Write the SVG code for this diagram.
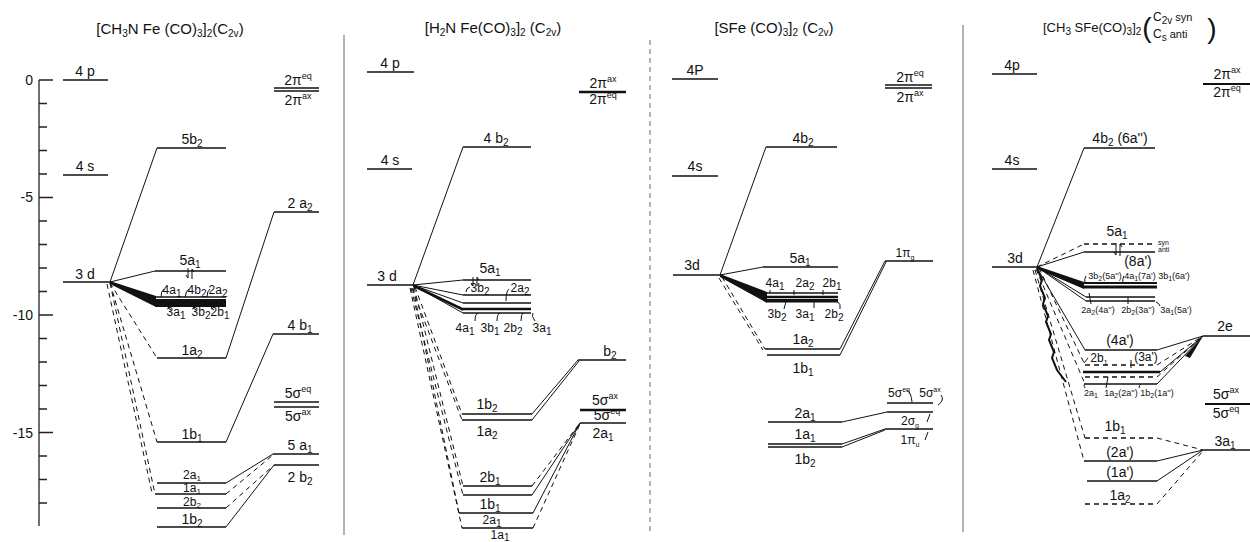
<svg xmlns="http://www.w3.org/2000/svg" width="1250" height="542" viewBox="0 0 1250 542">
<style>
text{font-family:"Liberation Sans",Arial,sans-serif;font-size:14px;fill:#111;text-anchor:middle}
.t{font-size:15px}
.m{font-size:12px}
.s{font-size:9px}
.xs{font-size:7px}
.b{font-size:10px}
.b8{font-size:8px}
.u{font-size:9px}
.bs{font-size:7px}
.st{text-anchor:start}
.en{text-anchor:end}
.lv{stroke:#111;stroke-width:1.4;fill:none}
.c{stroke:#111;stroke-width:1;fill:none}
.d{stroke-dasharray:5 4}
.ax{stroke:#222;stroke-width:1.3;fill:none}
.dv{stroke:#666;stroke-width:1}
.fan{fill:#111}
</style>
<rect width="1250" height="542" fill="#fff"/>

<g id="axis">
<line class="ax" x1="39" y1="80" x2="39" y2="526"/>
<path class="ax" d="M39 80h14M39 103.5h8M39 127h8M39 150.5h8M39 174h8M39 197.5h14M39 221h8M39 244.5h8M39 268h8M39 291.5h8M39 315h14M39 338.5h8M39 362h8M39 385.5h8M39 409h8M39 432.5h14M39 456h8M39 479.5h8M39 503h8"/>
<text class="en" x="33" y="85">0</text>
<text class="en" x="33" y="202">-5</text>
<text class="en" x="33" y="320">-10</text>
<text class="en" x="33" y="438">-15</text>
</g>

<g id="dividers">
<line class="dv" x1="344" y1="35" x2="344" y2="535"/>
<line class="dv d" x1="650" y1="40" x2="650" y2="532"/>
<line class="dv" x1="963" y1="25" x2="963" y2="532"/>
</g>

<!-- ===== Panel 1 ===== -->
<g id="p1-title"><text class="t" x="170" y="34">[CH<tspan class="b" dy="3">3</tspan><tspan dy="-3">N Fe (CO)</tspan><tspan class="b" dy="3">3</tspan><tspan dy="-3">]</tspan><tspan class="b" dy="3">2</tspan><tspan dy="-3">(C</tspan><tspan class="b" dy="3">2v</tspan><tspan dy="-3">)</tspan></text></g>
<g id="p1-4p"><line class="lv" x1="63" y1="80" x2="108" y2="80"/><text x="85" y="76">4 p</text></g>
<g id="p1-4s"><line class="lv" x1="63" y1="175" x2="108" y2="175"/><text x="85" y="171">4 s</text></g>
<g id="p1-3d"><line class="lv" x1="63" y1="282" x2="110" y2="282"/><text x="85" y="279">3 d</text></g>
<g id="p1-5b2"><line class="lv" x1="157" y1="148" x2="226" y2="148"/><text x="192" y="144">5b<tspan class="b" dy="3">2</tspan></text></g>
<g id="p1-5a1"><line class="lv" x1="155" y1="271" x2="226" y2="271"/><text x="190" y="265">5a<tspan class="b" dy="3">1</tspan></text>
<path class="c" d="M188 268v10M186 275l2 3M192 279v-10M192 269l2 3"/></g>
<g id="p1-band"><line class="lv" x1="155" y1="297" x2="226" y2="297"/><rect x="155" y="299" width="71" height="8" fill="#111"/>
<text class="m" x="172" y="294">4a<tspan class="b" dy="3">1</tspan></text>
<text class="m" x="197" y="294">4b<tspan class="b" dy="3">2</tspan></text>
<text class="m" x="218" y="294">2a<tspan class="b" dy="3">2</tspan></text>
<text class="m" x="176" y="316">3a<tspan class="b" dy="3">1</tspan></text>
<text class="m" x="201" y="316">3b<tspan class="b" dy="3">2</tspan></text>
<text class="m" x="220" y="316">2b<tspan class="b" dy="3">1</tspan></text>
<path class="c" d="M164 289q-3 2-3 8M189 289q-3 2-4 8M210 289q-3 2-3 8M168 306q0 3 3 4M193 306q0 3 3 4M211 306q0 3 3 4"/></g>
<g id="p1-1a2"><line class="lv" x1="157" y1="358" x2="226" y2="358"/><text x="192" y="355">1a<tspan class="b" dy="3">2</tspan></text></g>
<g id="p1-1b1"><line class="lv" x1="157" y1="442" x2="226" y2="442"/><text x="192" y="439">1b<tspan class="b" dy="3">1</tspan></text></g>
<g id="p1-2a1"><line class="lv" x1="157" y1="483" x2="226" y2="483"/><text class="m" x="192" y="479">2a<tspan class="b8" dy="2">1</tspan></text></g>
<g id="p1-1a1"><line class="lv" x1="155" y1="494" x2="226" y2="494"/><text class="m" x="192" y="492">1a<tspan class="b8" dy="2">1</tspan></text></g>
<g id="p1-2b2"><line class="lv" x1="157" y1="508" x2="226" y2="508"/><text class="m" x="192" y="506">2b<tspan class="b8" dy="2">2</tspan></text></g>
<g id="p1-1b2"><line class="lv" x1="157" y1="527" x2="226" y2="527"/><text x="192" y="524">1b<tspan class="b" dy="3">2</tspan></text></g>
<g id="p1-2pi"><line class="lv" x1="274" y1="88" x2="319" y2="88"/><line class="lv" x1="274" y1="91" x2="319" y2="91"/>
<text x="298" y="85">2π<tspan class="u" dy="-6">eq</tspan></text><text x="298" y="105">2π<tspan class="u" dy="-6">ax</tspan></text></g>
<g id="p1-2a2r"><line class="lv" x1="274" y1="212" x2="319" y2="212"/><text x="300" y="208">2 a<tspan class="b" dy="3">2</tspan></text></g>
<g id="p1-4b1"><line class="lv" x1="273" y1="334" x2="319" y2="334"/><text x="300" y="330">4 b<tspan class="b" dy="3">1</tspan></text></g>
<g id="p1-5sigma"><line class="lv" x1="274" y1="402" x2="319" y2="402"/><line class="lv" x1="274" y1="407" x2="319" y2="407"/>
<text x="298" y="398">5σ<tspan class="u" dy="-6">eq</tspan></text><text x="298" y="421">5σ<tspan class="u" dy="-6">ax</tspan></text></g>
<g id="p1-5a1r"><line class="lv" x1="273" y1="454" x2="319" y2="454"/><text x="300" y="450">5 a<tspan class="b" dy="3">1</tspan></text></g>
<g id="p1-2b2r"><line class="lv" x1="274" y1="465" x2="319" y2="465"/><text x="300" y="482">2 b<tspan class="b" dy="3">2</tspan></text></g>

<!-- ===== Panel 2 ===== -->
<g id="p2-title"><text class="t" x="493" y="33">[H<tspan class="b" dy="3">2</tspan><tspan dy="-3">N Fe(CO)</tspan><tspan class="b" dy="3">3</tspan><tspan dy="-3">]</tspan><tspan class="b" dy="3">2</tspan><tspan dy="-3"> (C</tspan><tspan class="b" dy="3">2v</tspan><tspan dy="-3">)</tspan></text></g>
<g id="p2-4p"><line class="lv" x1="367" y1="72" x2="414" y2="72"/><text x="390" y="68">4 p</text></g>
<g id="p2-4s"><line class="lv" x1="367" y1="169" x2="412" y2="169"/><text x="390" y="165">4 s</text></g>
<g id="p2-3d"><line class="lv" x1="367" y1="285" x2="413" y2="285"/><text x="387" y="281">3 d</text></g>
<g id="p2-4b2"><line class="lv" x1="463" y1="147" x2="531" y2="147"/><text x="496" y="143">4 b<tspan class="b" dy="3">2</tspan></text></g>
<g id="p2-5a1"><line class="lv" x1="463" y1="280" x2="531" y2="280"/><text x="490" y="273">5a<tspan class="b" dy="3">1</tspan></text>
<path class="c" d="M473 277v9M471 283l2 3M477 286v-9M477 277l2 3"/></g>
<g id="p2-band"><line class="lv" x1="463" y1="295" x2="531" y2="295"/><line class="lv" x1="463" y1="303" x2="531" y2="303"/>
<line x1="463" y1="309" x2="531" y2="309" stroke="#111" stroke-width="2.6"/><line class="lv" x1="463" y1="313" x2="531" y2="313"/>
<text class="m" x="480" y="292">3b<tspan class="b" dy="3">2</tspan></text>
<text class="m" x="520" y="292">2a<tspan class="b" dy="3">2</tspan></text>
<text class="m" x="465" y="332">4a<tspan class="b" dy="3">1</tspan></text>
<text class="m" x="490" y="332">3b<tspan class="b" dy="3">1</tspan></text>
<text class="m" x="513" y="332">2b<tspan class="b" dy="3">2</tspan></text>
<text class="m" x="542" y="332">3a<tspan class="b" dy="3">1</tspan></text>
<path class="c" d="M470 287q-4 1-4 5M509 289q-3 2-3 12M478 313q-3 1-3 8M500 313q-3 1-3 8M523 313q-2 1-2 8M533 313q-2 3 2 8"/></g>
<g id="p2-1b2"><line class="lv" x1="462" y1="414" x2="532" y2="414"/><text x="487" y="409">1b<tspan class="b" dy="3">2</tspan></text></g>
<g id="p2-1a2"><line class="lv" x1="462" y1="420" x2="532" y2="420"/><text x="487" y="436">1a<tspan class="b" dy="3">2</tspan></text></g>
<g id="p2-2b1"><line class="lv" x1="463" y1="486" x2="532" y2="486"/><text x="490" y="482">2b<tspan class="b" dy="3">1</tspan></text></g>
<g id="p2-1b1"><line class="lv" x1="463" y1="495" x2="532" y2="495"/><text x="490" y="509">1b<tspan class="b" dy="3">1</tspan></text></g>
<g id="p2-2a1"><line class="lv" x1="459" y1="513" x2="533" y2="513"/><text class="m" x="492" y="524">2a<tspan class="b" dy="3">1</tspan></text></g>
<g id="p2-1a1"><line class="lv" x1="462" y1="528" x2="533" y2="528"/><text class="m" x="500" y="539">1a<tspan class="b" dy="2">1</tspan></text></g>
<g id="p2-2pi"><line x1="579" y1="92" x2="626" y2="92" stroke="#111" stroke-width="2.6"/>
<text x="603" y="88">2π<tspan class="u" dy="-6">ax</tspan></text><text x="603" y="104">2π<tspan class="u" dy="-6">eq</tspan></text></g>
<g id="p2-b2"><line class="lv" x1="578" y1="360" x2="626" y2="360"/><text x="610" y="356">b<tspan class="b" dy="3">2</tspan></text></g>
<g id="p2-5sigma"><line x1="580" y1="410" x2="626" y2="410" stroke="#111" stroke-width="2.4"/>
<text x="605" y="405">5σ<tspan class="u" dy="-6">ax</tspan></text><text x="607" y="420">5σ<tspan class="u" dy="-6">eq</tspan></text></g>
<g id="p2-2a1r"><line class="lv" x1="580" y1="423" x2="626" y2="423"/><text x="603" y="438">2a<tspan class="b" dy="3">1</tspan></text></g>

<!-- ===== Panel 3 ===== -->
<g id="p3-title"><text class="t" x="774" y="33">[SFe (CO)<tspan class="b" dy="3">3</tspan><tspan dy="-3">]</tspan><tspan class="b" dy="3">2</tspan><tspan dy="-3">  (C</tspan><tspan class="b" dy="3">2v</tspan><tspan dy="-3">)</tspan></text></g>
<g id="p3-4p"><line class="lv" x1="672" y1="79" x2="718" y2="79"/><text x="695" y="75">4P</text></g>
<g id="p3-4s"><line class="lv" x1="672" y1="176" x2="718" y2="176"/><text x="695" y="171">4s</text></g>
<g id="p3-3d"><line class="lv" x1="673" y1="275" x2="720" y2="275"/><text x="692" y="270">3d</text></g>
<g id="p3-4b2"><line class="lv" x1="766" y1="147" x2="837" y2="147"/><text x="803" y="143">4b<tspan class="b" dy="3">2</tspan></text></g>
<g id="p3-5a1"><line class="lv" x1="763" y1="267" x2="838" y2="267"/><text x="800" y="263">5a<tspan class="b" dy="3">1</tspan></text></g>
<g id="p3-band"><line class="lv" x1="767" y1="293" x2="838" y2="293"/><line x1="767" y1="297" x2="838" y2="297" stroke="#111" stroke-width="2.4"/><rect x="767" y="299" width="71" height="3.5" fill="#111"/>
<text class="m" x="775" y="287">4a<tspan class="b" dy="3">1</tspan></text>
<text class="m" x="805" y="287">2a<tspan class="b" dy="3">2</tspan></text>
<text class="m" x="832" y="287">2b<tspan class="b" dy="3">1</tspan></text>
<text class="m" x="777" y="318">3b<tspan class="b" dy="3">2</tspan></text>
<text class="m" x="805" y="318">3a<tspan class="b" dy="3">1</tspan></text>
<text class="m" x="834" y="318">2b<tspan class="b" dy="3">2</tspan></text>
<path class="c" d="M770 290v3M794 290v5M823 290v5M786 302q-1 3-2 7M814 302v6M838 302q3 2 2 7"/></g>
<g id="p3-1a2"><line class="lv" x1="765" y1="349" x2="840" y2="349"/><text x="803" y="344">1a<tspan class="b" dy="3">2</tspan></text></g>
<g id="p3-1b1"><line class="lv" x1="767" y1="355" x2="840" y2="355"/><text x="803" y="373">1b<tspan class="b" dy="3">1</tspan></text></g>
<g id="p3-2a1"><line class="lv" x1="768" y1="422" x2="842" y2="422"/><text x="805" y="418">2a<tspan class="b" dy="3">1</tspan></text></g>
<g id="p3-1a1"><line class="lv" x1="768" y1="444" x2="842" y2="444"/><text x="805" y="439">1a<tspan class="b" dy="3">1</tspan></text></g>
<g id="p3-1b2"><line class="lv" x1="768" y1="447" x2="842" y2="447"/><text x="805" y="464">1b<tspan class="b" dy="3">2</tspan></text></g>
<g id="p3-2pi"><line class="lv" x1="885" y1="85" x2="932" y2="85"/><line class="lv" x1="885" y1="88" x2="932" y2="88"/>
<text x="910" y="82">2π<tspan class="u" dy="-6">eq</tspan></text><text x="910" y="102">2π<tspan class="u" dy="-6">ax</tspan></text></g>
<g id="p3-1pig"><line class="lv" x1="885" y1="261" x2="933" y2="261"/><text class="m" x="905" y="257">1π<tspan class="bs" dy="3">g</tspan></text></g>
<g id="p3-5sigma"><line class="lv" x1="887" y1="403" x2="933" y2="403"/>
<text class="m" x="899" y="397">5σ<tspan class="bs" dy="-5">eq</tspan></text><text class="m" x="930" y="397">5σ<tspan class="bs" dy="-5">ax</tspan></text>
<path class="c" d="M907 390q4 2 5 12M941 395q4 5-3 10"/></g>
<g id="p3-2sigmag"><line class="lv" x1="887" y1="412" x2="933" y2="412"/><text class="m" x="910" y="425">2σ<tspan class="bs" dy="3">g</tspan></text><path class="c" d="M927 422l3-8"/></g>
<g id="p3-1piu"><line class="lv" x1="885" y1="429" x2="933" y2="429"/><text class="m" x="910" y="444">1π<tspan class="bs" dy="3">u</tspan></text><path class="c" d="M925 440l3-8"/></g>

<!-- ===== Panel 4 ===== -->
<g id="p4-title"><text class="st" x="1043" y="32" style="font-size:13px">[CH<tspan class="b" dy="3">3</tspan><tspan dy="-3"> SFe(CO)</tspan><tspan class="b" dy="3">3</tspan><tspan dy="-3">]</tspan><tspan class="b" dy="3">2</tspan></text>
<text x="1147" y="37" style="font-size:28px">(</text><text x="1212" y="38" style="font-size:28px">)</text>
<text class="m st" x="1153" y="21">C<tspan class="b" dy="3">2v</tspan><tspan dy="-3" style="font-size:11px"> syn</tspan></text>
<text class="m st" x="1153" y="38">C<tspan class="b" dy="3">s</tspan><tspan dy="-3" style="font-size:11px"> anti</tspan></text></g>
<g id="p4-4p"><line class="lv" x1="992" y1="74" x2="1037" y2="74"/><text x="1012" y="70">4p</text></g>
<g id="p4-4s"><line class="lv" x1="992" y1="169" x2="1037" y2="169"/><text x="1012" y="165">4s</text></g>
<g id="p4-3d"><line class="lv" x1="992" y1="267" x2="1037" y2="267"/><text x="1015" y="263">3d</text></g>
<g id="p4-4b2"><line class="lv" x1="1084" y1="148" x2="1155" y2="148"/><text x="1120" y="143">4b<tspan class="b" dy="3">2</tspan><tspan dy="-3"> (6a'')</tspan></text></g>
<g id="p4-5a1"><line class="lv d" x1="1084" y1="244" x2="1155" y2="244"/><line class="lv" x1="1084" y1="252" x2="1155" y2="252"/>
<text x="1117" y="236">5a<tspan class="b" dy="3">1</tspan></text>
<text class="xs st" x="1158" y="245">syn</text><text class="xs st" x="1158" y="252">anti</text>
<text x="1138" y="266">(8a')</text>
<path class="c" d="M1116 243v12M1114 252l2 3M1120 256v-12M1120 244l2 3"/></g>
<g id="p4-band"><line x1="1084" y1="283" x2="1157" y2="283" stroke="#111" stroke-width="2"/><line x1="1084" y1="287" x2="1157" y2="287" stroke="#111" stroke-width="3"/>
<line class="lv" x1="1086" y1="297" x2="1155" y2="297"/><line class="lv" x1="1086" y1="301" x2="1155" y2="301"/>
<text class="s" x="1105" y="279">3b<tspan class="bs" dy="2">2</tspan><tspan dy="-2">(5a'')</tspan></text>
<text class="s" x="1140" y="279">4a<tspan class="bs" dy="2">1</tspan><tspan dy="-2">(7a')</tspan></text>
<text class="s" x="1174" y="279">3b<tspan class="bs" dy="2">1</tspan><tspan dy="-2">(6a')</tspan></text>
<text class="s" x="1098" y="313">2a<tspan class="bs" dy="2">2</tspan><tspan dy="-2">(4a'')</tspan></text>
<text class="s" x="1138" y="313">2b<tspan class="bs" dy="2">2</tspan><tspan dy="-2">(3a'')</tspan></text>
<text class="s" x="1176" y="313">3a<tspan class="bs" dy="2">1</tspan><tspan dy="-2">(5a')</tspan></text>
<path class="c" d="M1086 276q-2 3-1 7M1124 276q-2 3-1 8M1089 293l2 11M1128 297v7M1156 302q3 1 4 4"/></g>
<g id="p4-4a'"><line class="lv" x1="1085" y1="350" x2="1157" y2="350"/><text x="1120" y="345">(4a')</text></g>
<g id="p4-2b1"><line class="lv d" x1="1085" y1="365" x2="1157" y2="365"/><text class="m" x="1099" y="362">2b<tspan class="bs" dy="3">1</tspan></text><text class="m" x="1146" y="361">(3a')</text>
<path class="c" d="M1088 358l-4 5M1131 360v8"/></g>
<g id="p4-lower"><line x1="1083" y1="372" x2="1160" y2="372" stroke="#111" stroke-width="2.4"/><line class="lv d" x1="1085" y1="377" x2="1157" y2="377"/><line class="lv" x1="1085" y1="384" x2="1157" y2="384"/>
<text class="s" x="1091" y="396">2a<tspan class="bs" dy="2">1</tspan></text>
<text class="s" x="1121" y="396">1a<tspan class="bs" dy="2">2</tspan><tspan dy="-2">(2a'')</tspan></text>
<text class="s" x="1157" y="396">1b<tspan class="bs" dy="2">2</tspan><tspan dy="-2">(1a'')</tspan></text>
<path class="c" d="M1085 388q-2-2 0-5M1106 388l2-11M1139 388q0-3 2-4"/></g>
<g id="p4-1b1"><line class="lv d" x1="1085" y1="438" x2="1157" y2="438"/><text x="1115" y="431">1b<tspan class="b" dy="3">1</tspan></text></g>
<g id="p4-2a'"><line class="lv" x1="1084" y1="461" x2="1157" y2="461"/><text x="1120" y="457">(2a')</text></g>
<g id="p4-1a'"><line class="lv" x1="1087" y1="481" x2="1157" y2="481"/><text x="1120" y="477">(1a')</text></g>
<g id="p4-1a2"><line class="lv d" x1="1085" y1="504" x2="1157" y2="504"/><text x="1120" y="500">1a<tspan class="b" dy="3">2</tspan></text></g>
<g id="p4-2pi"><line x1="1203" y1="84" x2="1250" y2="84" stroke="#111" stroke-width="2"/>
<text x="1227" y="79">2π<tspan class="u" dy="-6">ax</tspan></text><text x="1227" y="97">2π<tspan class="u" dy="-6">eq</tspan></text></g>
<g id="p4-2e"><line class="lv" x1="1203" y1="336" x2="1250" y2="336"/><text x="1225" y="331">2e</text></g>
<g id="p4-5sigma"><line x1="1205" y1="404" x2="1250" y2="404" stroke="#111" stroke-width="2"/>
<text x="1226" y="399">5σ<tspan class="u" dy="-6">ax</tspan></text><text x="1226" y="418">5σ<tspan class="u" dy="-6">eq</tspan></text></g>
<g id="p4-3a1"><line class="lv" x1="1203" y1="450" x2="1250" y2="450"/><text x="1225" y="446">3a<tspan class="b" dy="3">1</tspan></text></g>

<!-- ===== Connectors ===== -->
<g id="connectors">
<line class="c" x1="110" y1="282" x2="157" y2="148"/>
<line class="c" x1="110" y1="282" x2="155" y2="271"/>
<polygon class="fan" points="110,281 156,296 156,307 110,284"/>
<line class="c d" x1="110" y1="283" x2="157" y2="358"/>
<line class="c d" x1="110" y1="283" x2="157" y2="442"/>
<line class="c d" x1="110" y1="283" x2="155" y2="494"/>
<line class="c d" x1="107" y1="284" x2="152" y2="493"/>
<line class="c" x1="226" y1="358" x2="274" y2="212"/>
<line class="c" x1="226" y1="442" x2="273" y2="334"/>
<line class="c" x1="226" y1="483" x2="273" y2="454"/>
<line class="c d" x1="226" y1="494" x2="273" y2="455"/>
<line class="c d" x1="226" y1="508" x2="274" y2="465"/>
<line class="c" x1="226" y1="527" x2="274" y2="465"/>
<line class="c" x1="413" y1="285" x2="463" y2="147"/>
<line class="c" x1="413" y1="285" x2="463" y2="280"/>
<line class="c" x1="413" y1="285" x2="463" y2="295"/>
<line class="c" x1="413" y1="285" x2="463" y2="303"/>
<polygon class="fan" points="413,284 463,308 463,311 413,287"/>
<line class="c" x1="413" y1="285" x2="463" y2="313"/>
<line class="c d" x1="415" y1="287" x2="462" y2="414"/>
<line class="c d" x1="412" y1="288" x2="462" y2="420"/>
<line class="c d" x1="414" y1="287" x2="463" y2="486"/>
<line class="c d" x1="411" y1="288" x2="463" y2="495"/>
<line class="c d" x1="413" y1="288" x2="459" y2="513"/>
<line class="c d" x1="410" y1="288" x2="462" y2="528"/>
<line class="c" x1="532" y1="414" x2="578" y2="360"/>
<line class="c" x1="532" y1="420" x2="579" y2="361"/>
<line class="c d" x1="532" y1="486" x2="580" y2="423"/>
<line class="c" x1="532" y1="495" x2="580" y2="423"/>
<line class="c" x1="533" y1="513" x2="580" y2="423"/>
<line class="c d" x1="533" y1="528" x2="580" y2="424"/>
<line class="c" x1="720" y1="275" x2="766" y2="147"/>
<line class="c" x1="720" y1="275" x2="763" y2="267"/>
<polygon class="fan" points="720,274 767,292 767,303 720,277"/>
<line class="c d" x1="722" y1="277" x2="765" y2="349"/>
<line class="c d" x1="719" y1="278" x2="763" y2="350"/>
<line class="c" x1="840" y1="349" x2="885" y2="261"/>
<line class="c" x1="840" y1="355" x2="886" y2="262"/>
<line class="c" x1="842" y1="422" x2="887" y2="412"/>
<line class="c" x1="842" y1="444" x2="885" y2="429"/>
<line class="c" x1="842" y1="447" x2="885" y2="430"/>
<line class="c" x1="1037" y1="267" x2="1084" y2="148"/>
<line class="c d" x1="1037" y1="267" x2="1084" y2="244"/>
<line class="c" x1="1037" y1="267" x2="1084" y2="252"/>
<polygon class="fan" points="1037,266 1084,282 1084,289 1037,269"/>
<line class="c" x1="1037" y1="267" x2="1086" y2="297"/>
<line class="c" x1="1037" y1="267" x2="1086" y2="301"/>
<line class="c" x1="1037" y1="268" x2="1085" y2="350"/>
<line class="c d" x1="1039" y1="268" x2="1085" y2="365"/>
<path d="M1037 268l5 12-2 6 5 12-2 6 5 12-2 6 5 12-2 6 5 12-2 6 5 12 9 12" stroke="#111" stroke-width="2" fill="none"/>
<line class="c d" x1="1036" y1="269" x2="1085" y2="384"/>
<line class="c d" x1="1035" y1="270" x2="1085" y2="438"/>
<line class="c d" x1="1033" y1="270" x2="1084" y2="461"/>
<line class="c" x1="1157" y1="350" x2="1203" y2="336"/>
<line class="c d" x1="1157" y1="365" x2="1203" y2="336"/>
<line class="c" x1="1160" y1="372" x2="1203" y2="336"/>
<line class="c d" x1="1157" y1="377" x2="1203" y2="336"/>
<line class="c" x1="1157" y1="384" x2="1203" y2="336"/>
<polygon class="fan" points="1185,356 1203,336 1190,358"/>
<line class="c d" x1="1157" y1="438" x2="1203" y2="450"/>
<line class="c" x1="1157" y1="461" x2="1203" y2="450"/>
<line class="c" x1="1157" y1="481" x2="1203" y2="450"/>
<line class="c d" x1="1157" y1="504" x2="1203" y2="451"/>
</g>
</svg>
